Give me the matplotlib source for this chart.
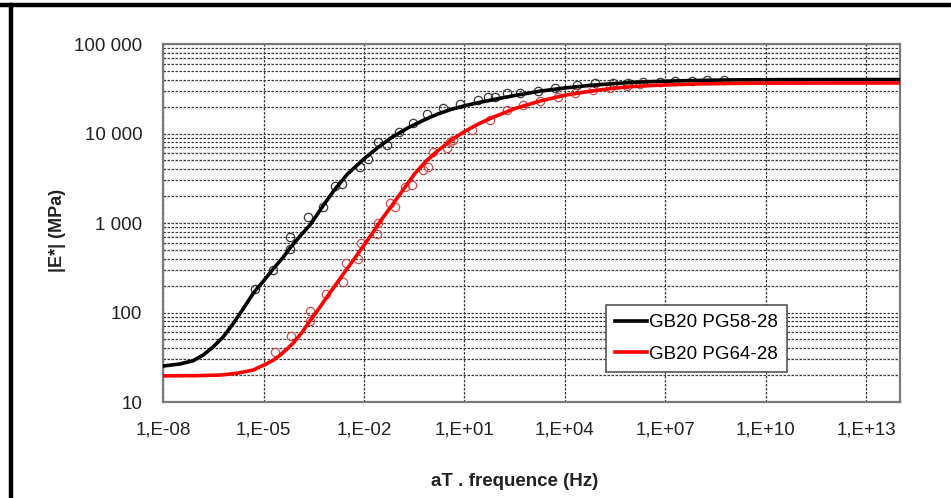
"""Master curves |E*| vs reduced frequency for two binders."""

import matplotlib
matplotlib.use("Agg")
import matplotlib.pyplot as plt
from matplotlib.lines import Line2D
from matplotlib.ticker import FixedLocator, FixedFormatter, NullFormatter, LogLocator
import numpy as np

plt.rcParams["font.family"] = ["Liberation Sans", "DejaVu Sans"]

# --- data (log10 of reduced frequency, |E*| in MPa) ---
black_curve_logf = [-8, -7.5, -7.1, -6.8, -6.5, -6.2, -5.9, -5.6, -5.3, -5.0,
                    -4.7, -4.4, -4.2, -3.9, -3.6, -3.2, -2.9, -2.5,
                    -2.0, -1.6, -1.2, -0.7, -0.2, 0.2, 0.6, 1.0, 1.5, 2.0,
                    2.6, 3.25, 4.0, 4.75, 5.4, 6.0, 6.6, 7.2, 8.0, 9.0, 10.0,
                    11.0, 14.0]
black_curve_E = [25.2, 26.6, 28.9, 33.5, 41.4, 53.5, 75.6, 111, 165, 225,
                 310, 420, 530, 720, 960, 1600, 2300, 3500,
                 5200, 6900, 8900, 11500, 14200, 16500, 18600, 20400, 22500, 24500,
                 27000, 29700, 32300, 34500, 36000, 37200, 38000, 38600, 39200,
                 39700, 39900, 40000, 40100]

red_curve_logf = [-8, -7, -6.3, -5.8, -5.3, -5.1, -4.9, -4.7, -4.5, -4.3, -4.1,
                  -3.85, -3.6, -3.35, -3.1, -2.85, -2.6, -2.35, -2.1, -1.9, -1.7,
                  -1.45, -1.2, -0.85, -0.5, -0.15, 0.2, 0.6, 1.0, 1.4, 1.8,
                  2.5, 3.25, 4.0, 4.75, 5.4, 6.0, 6.6, 7.2, 8.0, 9.0, 10.0,
                  11.0, 14.0]
red_curve_E = [19.6, 19.7, 20.0, 20.9, 22.8, 24.8, 26.8, 29.5, 33.5, 39, 46,
               60, 82, 110, 150, 203, 275, 370, 500, 640, 820,
               1130, 1510, 2300, 3500, 4900, 6400, 8400, 10500, 12700, 14900,
               19000, 23000, 26800, 29700, 31900, 33400, 34400, 35100, 35800,
               36300, 36500, 36600, 36700]

black_pts_logf = [-5.25, -4.71, -4.21, -4.21, -3.66, -3.21, -2.87, -2.67, -2.12,
                  -1.87, -1.57, -1.32, -0.97, -0.53, -0.13, 0.37, 0.87, 1.41,
                  1.71, 1.91, 2.26, 2.66, 3.2, 3.7, 4.35, 4.9, 5.44, 5.89, 6.34,
                  6.85, 7.28, 7.78, 8.25, 8.75]
black_pts_E = [182, 299, 508, 703, 1175, 1510, 2590, 2730, 4270, 5250, 8090,
               7420, 10470, 13000, 16400, 19100, 21500, 23400, 25700, 25700,
               28200, 28500, 30200, 32000, 34700, 36300, 37100, 37100, 37900,
               37500, 38200, 38900, 39500, 39500]

red_pts_logf = [-4.66, -4.19, -3.61, -3.61, -3.14, -2.64, -2.55, -2.17, -2.10,
                -1.62, -1.57, -1.22, -1.07, -0.78, -0.58, -0.23, -0.08, 0.07,
                0.47, 0.57, 0.67, 1.21, 1.76, 2.26, 2.76, 3.25, 3.80, 4.30,
                4.85, 5.34, 5.84, 6.24]
red_pts_E = [36.5, 55, 81, 105, 159, 221, 360, 392, 603, 753, 993, 1660, 1510,
             2540, 2660, 3890, 4270, 6270, 6840, 8130, 8480, 10960, 14100,
             18200, 20800, 23300, 25700, 28200, 30600, 32400, 33900, 35500]

x_tick_exp = [-8, -5, -2, 1, 4, 7, 10, 13]
x_tick_labels = ["1,E-08", "1,E-05", "1,E-02", "1,E+01", "1,E+04",
                 "1,E+07", "1,E+10", "1,E+13"]
y_ticks = [10, 100, 1000, 10000, 100000]
y_tick_labels = ["10", "100", "1 000", "10 000", "100 000"]

fig = plt.figure(figsize=(9.51, 4.98), dpi=100)
ax = fig.add_axes([163 / 951, 1 - 402 / 498, 737 / 951, 358 / 498])

ax.set_xscale("log")
ax.set_yscale("log")

ax.plot(10.0 ** np.array(black_pts_logf), black_pts_E, "o", mfc="none",
        mec="#3a3a3a", mew=0.9, ms=6, zorder=3)
ax.plot(10.0 ** np.array(red_pts_logf), red_pts_E, "o", mfc="none",
        mec="#d05050", mew=0.9, ms=6, zorder=3)
ax.plot(10.0 ** np.array(black_curve_logf), black_curve_E, color="black",
        lw=2.6, label="GB20 PG58-28", zorder=4, solid_joinstyle="round")
ax.plot(10.0 ** np.array(red_curve_logf), red_curve_E, color="#ff0000",
        lw=2.6, label="GB20 PG64-28", zorder=4, solid_joinstyle="round")

ax.set_xlim(1e-8, 1e14)
ax.set_ylim(10, 100000)

ax.xaxis.set_major_locator(FixedLocator([10.0 ** e for e in x_tick_exp]))
ax.xaxis.set_major_formatter(FixedFormatter(x_tick_labels))
ax.xaxis.set_minor_locator(FixedLocator([]))
ax.xaxis.set_minor_formatter(NullFormatter())
ax.yaxis.set_major_locator(FixedLocator(y_ticks))
ax.yaxis.set_major_formatter(FixedFormatter(y_tick_labels))
ax.yaxis.set_minor_locator(LogLocator(base=10, subs=np.arange(2, 10)))
ax.yaxis.set_minor_formatter(NullFormatter())

ax.tick_params(which="both", length=0)
ax.tick_params(axis="x", pad=14, labelsize=13.5, colors="#222222")
ax.tick_params(axis="y", pad=15, labelsize=13.5, colors="#222222")

grid_style = dict(color="#3a3a3a", lw=0.9, ls=(0, (2, 1.2)))
ax.grid(True, which="both", axis="y", **grid_style)
ax.grid(True, which="major", axis="x", **grid_style)
ax.set_axisbelow(True)

for sp in ax.spines.values():
    sp.set_color("#7a7a7a")
    sp.set_linewidth(1.6)

leg = ax.legend(loc="lower right", bbox_to_anchor=((787 - 163) / 737, 30 / 358),
                borderaxespad=0, fontsize=13.5, handlelength=1.7,
                handletextpad=0.1, borderpad=0.5, labelspacing=0.75,
                handleheight=0.7, fancybox=False, framealpha=1,
                edgecolor="#555555")
leg.get_frame().set_linewidth(1.2)

fig.text(57 / 951, 1 - 230 / 498, "|E*| (MPa)", rotation=90, ha="center",
         va="center", fontsize=13, fontweight="bold", color="#222222")
fig.text(515 / 951, 1 - 481 / 498, "aT . frequence (Hz)", ha="center",
         va="center", fontsize=13.5, fontweight="bold", color="#222222")

# black frame lines along top and left edges
fig.add_artist(Line2D([0, 1], [1 - 5.5 / 498, 1 - 5.5 / 498], color="black",
                      lw=3.2, transform=fig.transFigure))
fig.add_artist(Line2D([11 / 951, 11 / 951], [0, 1 - 5.5 / 498], color="black",
                      lw=3.2, transform=fig.transFigure))

fig.savefig("out.png", dpi=100)
